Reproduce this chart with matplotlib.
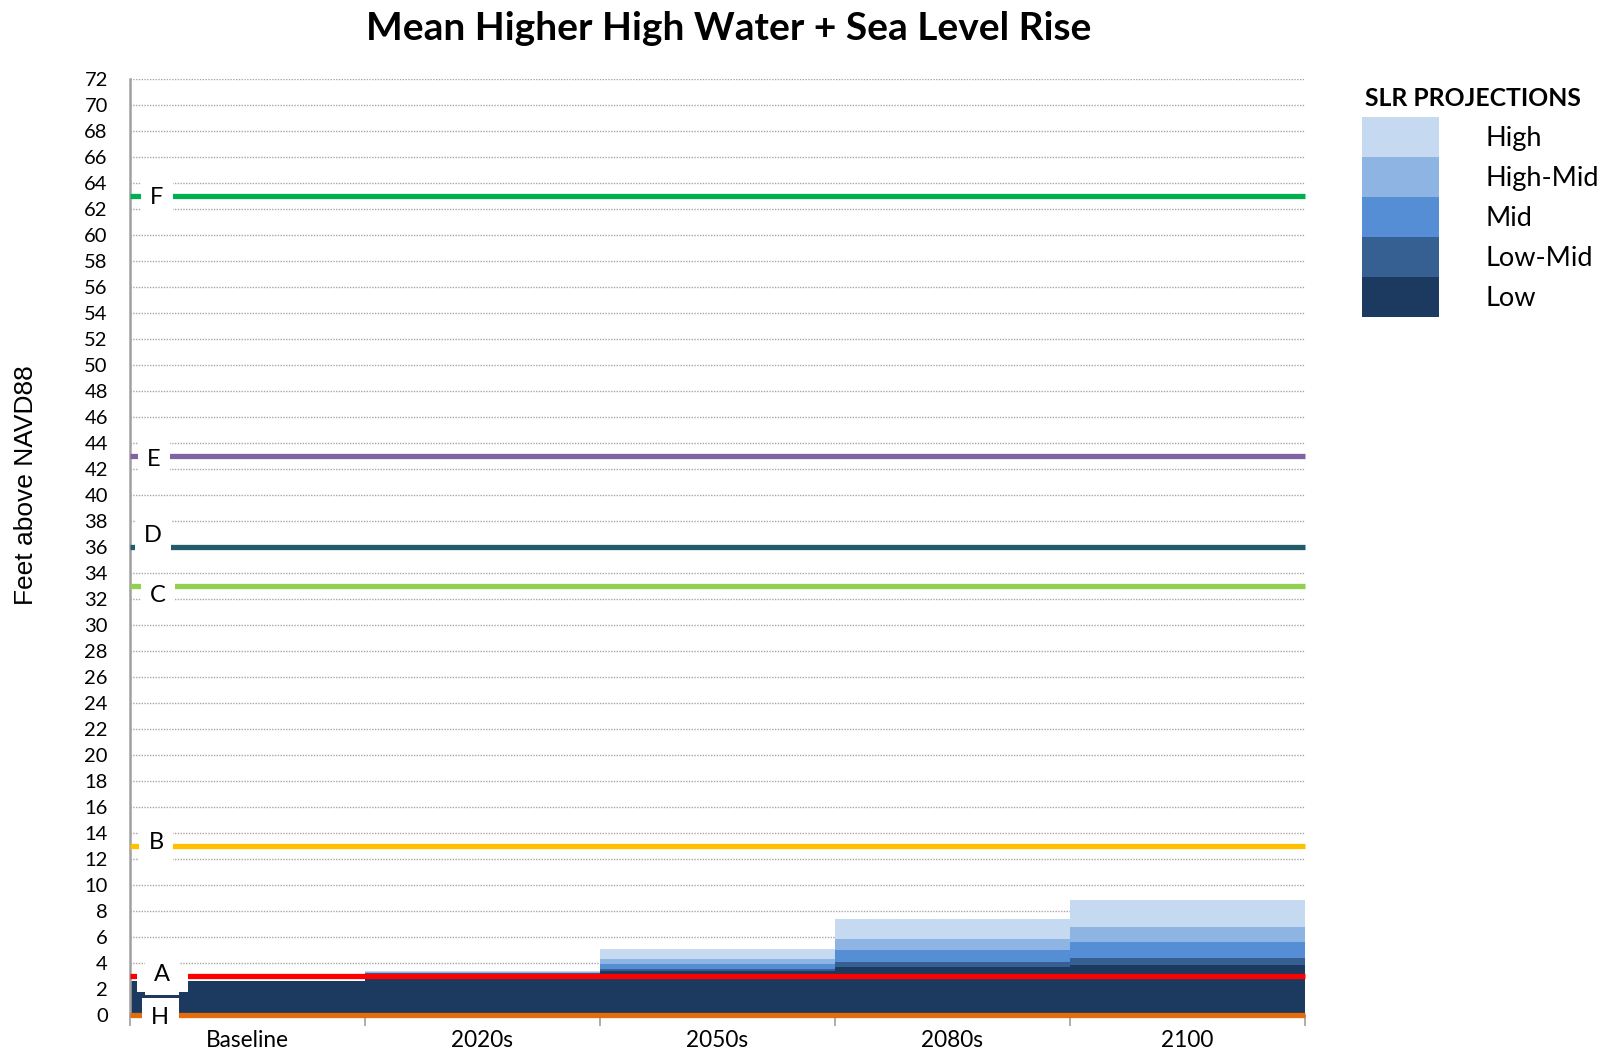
import matplotlib
matplotlib.use("Agg")
import matplotlib.pyplot as plt
from matplotlib.patches import Patch, Rectangle

# periods on the x axis
categories = ['Baseline', '2020s', '2050s', '2080s', '2100']

# MHHW + SLR, top of each projection (ft above NAVD88)
low = [2.6, 3.1, 3.35, 3.7, 3.85]
low_mid = [2.6, 3.2, 3.55, 4.1, 4.4]
mid = [2.6, 3.25, 3.9, 5.0, 5.6]
high_mid = [2.6, 3.3, 4.3, 5.85, 6.75]
high = [2.6, 3.4, 5.1, 7.4, 8.85]

series_names = ['High', 'High-Mid', 'Mid', 'Low-Mid', 'Low']
series_values = [high, high_mid, mid, low_mid, low]
series_colors = ['#C5D9F1', '#8EB4E3', '#558ED5', '#376092', '#1C3A5F']

# reference elevations
ref_labels = ['F', 'E', 'D', 'C', 'B', 'A', 'H']
ref_levels = [63, 43, 36, 33, 13, 3, 0]
ref_colors = ['#00B050', '#8064A2', '#245B68', '#92D050', '#FFC000', '#FF0000', '#E46C0A']
# where the letter sits (x in category units, y in feet)
ref_label_x = [-0.385, -0.398, -0.402, -0.381, -0.389, -0.364, -0.372]
ref_label_y = [62.9, 42.7, 36.9, 32.3, 13.3, 3.1, -0.2]

FONT = 'Lato'

fig = plt.figure(figsize=(16.03, 10.51), dpi=100)
ax = fig.add_axes([130 / 1603, 1 - 1015 / 1051, 1175 / 1603, 936 / 1051])

x = list(range(len(categories)))

# tallest projection first so the lower ones sit on top of it
for name, vals, col in zip(series_names, series_values, series_colors):
    ax.bar(x, vals, width=1.0, color=col, edgecolor='none', label=name, zorder=2)

for lab, lev, col, lx, ly in zip(ref_labels, ref_levels, ref_colors, ref_label_x, ref_label_y):
    ax.axhline(lev, color=col, lw=3.8, zorder=3, clip_on=False, solid_capstyle='butt')
    ax.text(lx, ly, lab, ha='center', va='center', fontsize=17, family=FONT, zorder=5,
            bbox=dict(boxstyle='square,pad=0.4', fc='white', ec='none'), clip_on=False)

# the "A" label box is wider and hangs down over the baseline bar
ax.add_patch(Rectangle((-0.47, 1.8), 0.217, 2.05, fc='white', ec='none', zorder=4))

ax.set_xlim(-0.5, 4.5)
ax.set_ylim(0, 72)
ax.set_yticks(range(0, 73, 2))
ax.set_xticks(x)
ax.set_xticklabels(categories)
ax.set_xticks([i - 0.5 for i in range(len(categories) + 1)], minor=True)

ax.tick_params(axis='x', which='major', length=0, pad=11, labelsize=16.3)
ax.tick_params(axis='x', which='minor', length=8, width=1.2, color='#A0A0A0')
ax.tick_params(axis='y', length=0, pad=16, labelsize=14.5)
for lbl in ax.get_xticklabels() + ax.get_yticklabels():
    lbl.set_family(FONT)

ax.yaxis.grid(True, color='#A6A6A6', lw=1.0, linestyle=(0, (1, 1)), zorder=1)
ax.set_axisbelow(True)
for side in ['top', 'right']:
    ax.spines[side].set_visible(False)
ax.spines['left'].set_color('#A0A0A0')
ax.spines['left'].set_linewidth(1.8)
ax.spines['left'].set_bounds(0, 72)
ax.spines['bottom'].set_color('#A0A0A0')

fig.text(729 / 1603, 1 - 28 / 1051, 'Mean Higher High Water + Sea Level Rise',
         ha='center', va='center', fontsize=28, fontweight='bold', family=FONT)
fig.text(26 / 1603, 1 - 485 / 1051, 'Feet above NAVD88', rotation=90,
         ha='center', va='center', fontsize=19, family='Liberation Sans')

# legend heading sits a little apart from the swatches
fig.text(1473 / 1603, 1 - 99 / 1051, 'SLR PROJECTIONS', ha='center', va='center',
         fontsize=17.8, fontweight='bold', family=FONT)
handles = [Patch(facecolor=c, edgecolor='none') for c in series_colors]
leg = fig.legend(handles, series_names, loc='upper left',
                 bbox_to_anchor=(1362 / 1603, 1 - 117 / 1051), frameon=False,
                 prop={'family': FONT, 'size': 19.5},
                 handlelength=2.85, handleheight=1.9, labelspacing=0,
                 handletextpad=1.7, borderpad=0, borderaxespad=0)

fig.savefig('out.png', dpi=100)
